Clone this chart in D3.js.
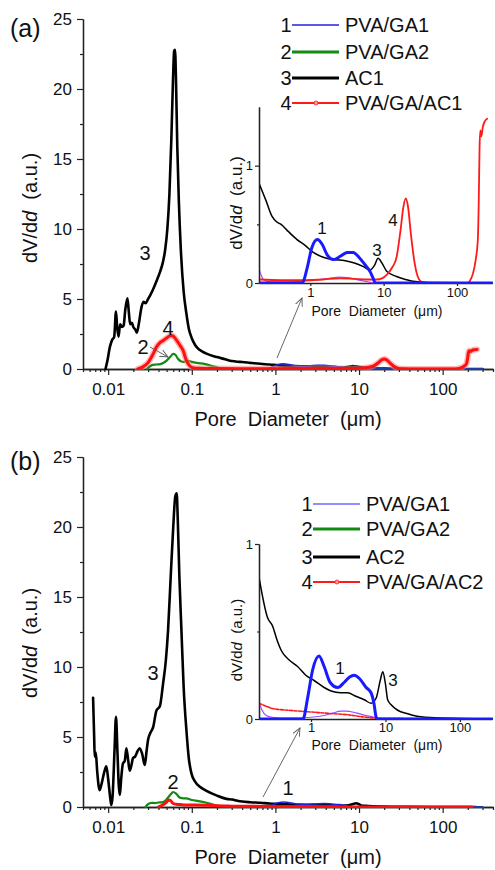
<!DOCTYPE html>
<html>
<head>
<meta charset="utf-8">
<script src="https://cdn.jsdelivr.net/npm/d3@7"></script>
<style>
body { margin: 0; background: #fff; }
svg { font-family: "Liberation Sans", Arial, sans-serif; }
text { white-space: pre; }
</style>
</head>
<body>
<div id="chart"></div>
<script>
// Tick values
const mainXTicks = [0.01, 0.1, 1, 10, 100];
const mainYTicks = [0, 5, 10, 15, 20, 25];
const mainYMinor = [2.5, 7.5, 12.5, 17.5, 22.5];
const insetXTicks = [1, 10, 100];
const insetYTicks = [0, 1];

const legendA = ["PVA/GA1", "PVA/GA2", "AC1", "PVA/GA/AC1"];
const legendB = ["PVA/GA1", "PVA/GA2", "AC2", "PVA/GA/AC2"];

// (a) series: [pore diameter (um), dV/dd]
const ac1 = [[0.0093,0],[0.0098,0.6],[0.0105,1.6],[0.0112,2.1],[0.0118,2.3],[0.0124,4.1],[0.0128,3.0],
  [0.0133,2.3],[0.0139,3.2],[0.0146,3.0],[0.0153,3.1],[0.0160,4.2],[0.0170,5.05],[0.0177,4.0],[0.0183,3.2],
  [0.0192,3.3],[0.0200,3.0],[0.0212,2.8],[0.0220,2.6],[0.0235,3.4],[0.025,4.4],[0.0265,4.8],[0.028,4.7],
  [0.030,5.0],[0.032,5.3],[0.0345,5.7],[0.038,6.3],[0.0415,6.9],[0.045,7.6],[0.048,8.5],[0.051,10.0],
  [0.054,12.5],[0.057,16.5],[0.0595,20.5],[0.0615,22.7],[0.063,22.8],[0.0648,20.5],[0.067,16.0],[0.070,12.0],
  [0.074,8.5],[0.080,5.5],[0.086,4.0],[0.092,2.9],[0.10,2.2],[0.11,1.7],[0.125,1.35],[0.15,1.1],
  [0.2,0.85],[0.25,0.7],[0.3,0.57],[0.35,0.52],[0.4,0.5],[0.5,0.44],[0.66,0.37],[0.85,0.32],[1.1,0.26],
  [1.5,0.22],[2,0.2],[3,0.19],[4,0.17],[5.3,0.14],[6.5,0.11],[7.5,0.15],[8.4,0.21],[9.5,0.17],[11,0.1],
  [15,0.055],[20,0.03],[25,0.015],[40,0.005],[300,0]];
const pvaGa1A = [[0.2,0],[0.78,0],[0.9,0.12],[1.05,0.3],[1.25,0.37],[1.45,0.33],[1.7,0.24],[2.07,0.2],
  [2.6,0.23],[3.2,0.26],[3.85,0.26],[4.6,0.22],[5.5,0.16],[6.5,0.1],[7.2,0.04],[7.7,0],[300,0]];
const pvaGa2A = [[0.029,0],[0.031,0.15],[0.034,0.3],[0.038,0.32],[0.042,0.35],[0.046,0.45],[0.05,0.6],
  [0.055,0.85],[0.06,1.08],[0.064,1.0],[0.068,0.75],[0.074,0.55],[0.08,0.5],[0.088,0.6],[0.095,0.55],
  [0.11,0.45],[0.13,0.4],[0.16,0.28],[0.2,0.12],[0.23,0.03],[0.28,0.01],[0.5,0.01],[1,0.02],[1.8,0.04],
  [2.5,0.05],[3.2,0.045],[5,0.02],[8,0],[300,0]];
const pvaGaAc1 = [[0.0226,0],[0.026,0.15],[0.030,0.45],[0.034,1.0],[0.038,1.6],[0.042,1.9],[0.046,2.05],
  [0.051,2.25],[0.056,2.4],[0.060,2.35],[0.065,2.1],[0.072,1.7],[0.079,1.3],[0.085,0.7],[0.090,0.4],
  [0.10,0.12],[0.12,0.05],[0.2,0.03],[0.4,0.025],[0.8,0.025],[1.5,0.03],[2.5,0.04],[4,0.035],[6,0.03],
  [8,0.03],[9.5,0.04],[11,0.07],[13,0.13],[15,0.22],[17,0.45],[18.5,0.64],[20,0.72],[21.5,0.65],
  [23.5,0.42],[26,0.2],[29,0.06],[33,0.01],[40,0],[140,0],[150,0.02],[165,0.08],[180,0.2],[192,0.36],
  [198,0.7],[203,1.15],[208,1.3],[215,1.25],[225,1.33],[240,1.38],[258,1.4]];

// (b) series
const ac2 = [[0.0066,7.8],[0.0068,5.0],[0.0069,3.6],[0.0071,3.9],[0.0074,2.5],[0.0079,1.2],[0.0083,1.6],
  [0.0089,2.4],[0.0095,2.9],[0.0100,2.0],[0.0106,0.6],[0.0109,0.15],[0.0113,0.8],[0.0119,4.0],[0.0124,6.45],
  [0.0129,4.0],[0.0134,1.5],[0.0138,0.86],[0.0143,2.0],[0.0150,3.1],[0.0158,3.3],[0.0165,4.2],[0.0173,3.4],
  [0.0181,2.6],[0.019,3.0],[0.0198,3.5],[0.021,3.6],[0.0225,4.0],[0.0238,4.2],[0.0255,3.8],[0.0274,3.0],
  [0.0288,4.0],[0.0300,4.8],[0.032,5.3],[0.0345,5.7],[0.0378,6.9],[0.0415,7.2],[0.0453,8.8],[0.049,10.5],
  [0.052,12.6],[0.056,16.5],[0.06,20.0],[0.0635,22.2],[0.066,22.4],[0.068,20.5],[0.071,16.5],[0.0752,12.6],
  [0.08,8.5],[0.0862,5.5],[0.092,3.5],[0.099,2.4],[0.11,1.8],[0.125,1.45],[0.15,1.15],[0.2,0.81],
  [0.26,0.58],[0.305,0.53],[0.35,0.45],[0.4,0.39],[0.5,0.34],[0.66,0.3],[0.85,0.25],[1.1,0.22],[1.5,0.18],
  [1.86,0.16],[2.5,0.15],[3.1,0.15],[4,0.13],[5.2,0.11],[6.4,0.09],[7.5,0.12],[8.5,0.22],[9.2,0.27],
  [10,0.2],[10.7,0.11],[12,0.08],[14.6,0.05],[20,0.03],[24,0.02],[40,0.008],[100,0.003],[250,0]];
const pvaGa1B = [[0.2,0],[0.78,0],[0.9,0.12],[1.05,0.28],[1.28,0.36],[1.5,0.3],[1.8,0.21],[2.28,0.18],
  [2.8,0.21],[3.3,0.24],[3.8,0.25],[4.5,0.23],[5.5,0.18],[6.4,0.15],[7,0.09],[7.5,0.01],[7.8,0],[300,0]];
const pvaGa2B = [[0.028,0],[0.03,0.2],[0.033,0.3],[0.036,0.28],[0.04,0.32],[0.045,0.35],[0.05,0.55],
  [0.055,0.85],[0.06,1.07],[0.065,0.95],[0.072,0.67],[0.08,0.62],[0.086,0.62],[0.1,0.5],[0.12,0.42],
  [0.15,0.3],[0.2,0.1],[0.22,0.05],[0.25,0.02],[0.3,0.01],[0.5,0.005],[1,0.01],[1.5,0.02],[2,0.035],
  [2.5,0.045],[3,0.045],[4,0.035],[5.5,0.02],[7,0.01],[8,0],[300,0]];
const pvaGaAc2 = [[0.04,0],[0.045,0.15],[0.05,0.35],[0.053,0.5],[0.056,0.45],[0.06,0.25],[0.065,0.2],
  [0.07,0.18],[0.08,0.15],[0.1,0.14],[0.15,0.12],[0.2,0.09],[0.26,0.07],[0.3,0.06],[0.5,0.05],[1,0.04],
  [2,0.03],[3,0.025],[5,0.012],[8,0.005],[20,0.003],[223,0]];

const svg = d3.select("#chart").append("svg")
    .attr("width", 495)
    .attr("height", 870);

const defs = svg.append("defs");
defs.append("marker")
    .attr("id", "arrow")
    .attr("viewBox", "0 0 10 10")
    .attr("refX", 9).attr("refY", 5)
    .attr("markerWidth", 9).attr("markerHeight", 9)
    .attr("markerUnits", "userSpaceOnUse")
    .attr("orient", "auto")
    .append("path")
    .attr("d", "M0,1 L9,5 L0,9")
    .attr("fill", "none")
    .attr("stroke", "#555")
    .attr("stroke-width", 1);

const fmt = d3.format("~g");

function logMinor(lo, hi, majors) {
    const out = [];
    for (let e = -3; e <= 3; e++) {
        for (let k = 1; k <= 9; k++) {
            const v = +(k * Math.pow(10, e)).toPrecision(3);
            if (v >= lo && v <= hi && !majors.includes(v)) out.push(v);
        }
    }
    return out;
}

function styleAxis(sel, fs) {
    sel.attr("font-family", null).attr("font-size", null);
    sel.select(".domain").attr("stroke", "#222").attr("stroke-width", 1.4);
    sel.selectAll(".tick line").attr("stroke", "#222").attr("stroke-width", 1.2);
    sel.selectAll(".tick text").attr("fill", "#111").style("font-size", fs + "px");
}

function yTitle(g, x, y, fs) {
    const t = g.append("text")
        .attr("transform", `translate(${x},${y}) rotate(-90)`)
        .attr("text-anchor", "middle")
        .style("font-size", fs + "px")
        .attr("fill", "#111");
    t.append("tspan").text("dV/d");
    t.append("tspan").style("font-style", "italic").text("d");
    t.append("tspan").text("  (a.u.)");
}

function drawPanel(p) {
    const g = svg.append("g");
    const x = d3.scaleLog().domain([0.005, 400]).range([83, 493]);
    const y = d3.scaleLinear().domain([0, 25]).range([p.y0, p.y0 - 350]);

    // main axes
    const xMinor = logMinor(0.005, 400, mainXTicks);
    g.append("g").attr("transform", `translate(0,${p.y0})`)
        .call(d3.axisBottom(x).tickValues(xMinor).tickFormat("").tickSize(3).tickSizeOuter(0))
        .call(s => styleAxis(s, 17));
    g.append("g").attr("transform", `translate(0,${p.y0})`)
        .call(d3.axisBottom(x).tickValues(mainXTicks).tickFormat(fmt).tickSize(6).tickPadding(8).tickSizeOuter(0))
        .call(s => styleAxis(s, 17));
    g.append("g").attr("transform", "translate(83,0)")
        .call(d3.axisLeft(y).tickValues(mainYMinor).tickFormat("").tickSize(3).tickSizeOuter(0))
        .call(s => styleAxis(s, 17));
    g.append("g").attr("transform", "translate(83,0)")
        .call(d3.axisLeft(y).tickValues(mainYTicks).tickFormat(fmt).tickSize(6).tickPadding(5).tickSizeOuter(0))
        .call(s => styleAxis(s, 17));

    g.append("text").attr("x", 288).attr("y", p.y0 + 57)
        .attr("text-anchor", "middle").style("font-size", "20px").attr("fill", "#111")
        .text("Pore  Diameter  (\u03bcm)");
    yTitle(g, 37, p.yTitleY, 20);
    g.append("text").attr("x", 10).attr("y", p.panelY)
        .style("font-size", "25px").attr("fill", "#111").text(p.panel);

    const clipId = "clip" + p.panel.replace(/\W/g, "");
    defs.append("clipPath").attr("id", clipId)
        .append("rect").attr("x", 84).attr("y", p.y0 - 360).attr("width", 410).attr("height", 361);

    const line = d3.line().x(d => x(d[0])).y(d => y(d[1])).curve(d3.curveMonotoneX);
    const lines = g.append("g").attr("clip-path", `url(#${clipId})`).attr("fill", "none")
        .attr("stroke-linejoin", "round").attr("stroke-linecap", "round");
    p.main.forEach(s => {
        if (s.halo) {
            lines.append("path").attr("d", line(s.data))
                .attr("stroke", s.halo).attr("stroke-width", s.w + 3).attr("opacity", 0.55);
        }
        lines.append("path").attr("d", line(s.data))
            .attr("stroke", s.color).attr("stroke-width", s.w);
    });

    // inset
    const ins = p.inset;
    const ix = d3.scaleLog().domain(ins.xDomain).range([259, 492]);
    const iy = d3.scaleLinear().domain(ins.yDomain).range([ins.y0, ins.top]);
    g.append("g").attr("transform", `translate(0,${ins.y0})`)
        .call(d3.axisBottom(ix).tickValues(insetXTicks).tickFormat(fmt).tickSize(3).tickPadding(ins.xPad).tickSizeOuter(0))
        .call(s => styleAxis(s, 13));
    g.append("g").attr("transform", "translate(259,0)")
        .call(d3.axisLeft(iy).tickValues(ins.yMinor).tickFormat("").tickSize(2).tickSizeOuter(0))
        .call(s => styleAxis(s, 13));
    g.append("g").attr("transform", "translate(259,0)")
        .call(d3.axisLeft(iy).tickValues(insetYTicks).tickFormat(fmt).tickSize(4).tickPadding(2).tickSizeOuter(0))
        .call(s => styleAxis(s, 13));
    g.selectAll(".domain").attr("stroke-width", 1.3);
    g.append("text").attr("x", 377).attr("y", ins.titleY)
        .attr("text-anchor", "middle").style("font-size", "14px").attr("fill", "#111")
        .text("Pore  Diameter  (\u03bcm)");
    yTitle(g, 242, ins.yTitleY, ins.yTitleSize);

    const iclip = clipId + "i";
    defs.append("clipPath").attr("id", iclip)
        .append("rect").attr("x", 260).attr("y", ins.top - 2).attr("width", 233).attr("height", ins.y0 - ins.top + 3);
    const iline = d3.line().x(d => ix(d[0])).y(d => iy(d[1])).curve(d3.curveMonotoneX);
    const ilines = g.append("g").attr("clip-path", `url(#${iclip})`).attr("fill", "none")
        .attr("stroke-linejoin", "round").attr("stroke-linecap", "round");
    ins.series.forEach(s => {
        ilines.append("path").attr("d", iline(s.data.filter(d => d[0] >= 0.19)))
            .attr("stroke", s.color).attr("stroke-width", s.w)
            .attr("stroke-dasharray", s.dash || null);
    });

    // number labels and arrows
    p.labels.forEach(l => {
        g.append("text").attr("x", l.x).attr("y", l.y)
            .attr("text-anchor", "middle").attr("dominant-baseline", "central")
            .style("font-size", l.fs + "px").attr("fill", "#111").text(l.t);
    });
    p.arrows.forEach(a => {
        g.append("line").attr("x1", a[0]).attr("y1", a[1]).attr("x2", a[2]).attr("y2", a[3])
            .attr("stroke", "#555").attr("stroke-width", 0.9).attr("marker-end", "url(#arrow)");
    });

    // legend
    const lg = p.legend;
    lg.names.forEach((name, i) => {
        const yy = lg.rows[i];
        const st = lg.styles[i];
        g.append("text").attr("x", lg.x).attr("y", yy + 7).attr("text-anchor", "middle")
            .style("font-size", "20px").attr("fill", "#111").text(i + 1);
        g.append("line").attr("x1", lg.x + 6).attr("x2", lg.x + 53).attr("y1", yy).attr("y2", yy)
            .attr("stroke", st.color).attr("stroke-width", st.w);
        if (st.marker) {
            g.append("circle").attr("cx", lg.x + 30).attr("cy", yy).attr("r", 2)
                .attr("fill", "#ff9a9a").attr("stroke", st.color).attr("stroke-width", 0.8);
        }
        g.append("text").attr("x", lg.x + 59).attr("y", yy + 7)
            .style("font-size", "20px").attr("fill", "#111").text(name);
    });
}

drawPanel({
    panel: "(a)", panelY: 37, y0: 369, yTitleY: 208,
    main: [
        { data: ac1, color: "#000", w: 2.6 },
        { data: pvaGa2A, color: "#138a13", w: 2.2 },
        { data: pvaGa1A, color: "#2222d8", w: 1.5 },
        { data: pvaGaAc1, color: "#ff1010", w: 3, halo: "#ff8080" }
    ],
    inset: {
        xDomain: [0.2, 300], yDomain: [0, 1.5], y0: 283, top: 107, yMinor: [0.5],
        xPad: 2, titleY: 316, yTitleY: 203, yTitleSize: 17,
        series: [
            { data: ac1, color: "#000", w: 1.5 },
            { data: pvaGa2A, color: "#9b4dff", w: 1.2 },
            { data: pvaGaAc1, color: "#ff1a1a", w: 1.8 },
            { data: pvaGa1A, color: "#1a1aff", w: 3 }
        ]
    },
    labels: [
        { t: "3", x: 145, y: 253, fs: 20 }, { t: "4", x: 168, y: 328, fs: 20 }, { t: "2", x: 143, y: 347, fs: 20 },
        { t: "1", x: 322, y: 228, fs: 17 }, { t: "3", x: 377, y: 250, fs: 17 }, { t: "4", x: 393, y: 220, fs: 17 }
    ],
    arrows: [[150, 347, 168, 357], [277, 358, 302, 298]],
    legend: {
        names: legendA, x: 286, rows: [25, 52, 78, 103],
        styles: [{ color: "#2222e0", w: 1.5 }, { color: "#138a13", w: 3 }, { color: "#000", w: 3 }, { color: "#ff1a1a", w: 2, marker: true }]
    }
});

drawPanel({
    panel: "(b)", panelY: 470, y0: 807, yTitleY: 643,
    main: [
        { data: ac2, color: "#000", w: 2.6 },
        { data: pvaGa2B, color: "#138a13", w: 2.2 },
        { data: pvaGa1B, color: "#2222d8", w: 1.5 },
        { data: pvaGaAc2, color: "#ff1010", w: 3 }
    ],
    inset: {
        xDomain: [0.2, 270], yDomain: [0, 1], y0: 719, top: 544, yMinor: [0.5],
        xPad: 1, titleY: 750, yTitleY: 640, yTitleSize: 15,
        series: [
            { data: ac2, color: "#000", w: 1.5 },
            { data: pvaGa2B, color: "#9b4dff", w: 1.2 },
            { data: pvaGaAc2, color: "#ff1a1a", w: 1.6, dash: "3,1.5" },
            { data: pvaGa1B, color: "#1a1aff", w: 3 }
        ]
    },
    labels: [
        { t: "3", x: 153, y: 673, fs: 20 }, { t: "2", x: 173, y: 782, fs: 20 }, { t: "1", x: 288, y: 788, fs: 20 },
        { t: "1", x: 340, y: 668, fs: 17 }, { t: "3", x: 393, y: 680, fs: 17 }
    ],
    arrows: [[263, 797, 300, 728]],
    legend: {
        names: legendB, x: 307, rows: [504, 529, 557, 582],
        styles: [{ color: "#6a6aff", w: 1.5 }, { color: "#138a13", w: 3 }, { color: "#000", w: 3 }, { color: "#ff1a1a", w: 2, marker: true }]
    }
});
</script>
</body>
</html>
